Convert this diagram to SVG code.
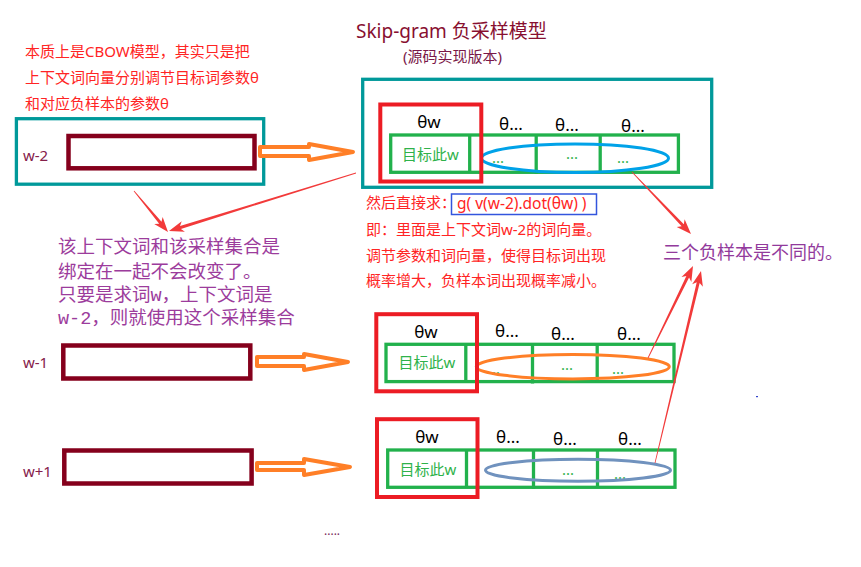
<svg xmlns="http://www.w3.org/2000/svg" width="861" height="567" viewBox="0 0 861 567">
<style>
  .sans { font-family: "Noto Sans", "Noto Sans CJK SC", sans-serif; }
  .red { fill: #ff2424; font-size: 15px; }
  .purple { font-family: "Liberation Mono", "Noto Sans CJK SC", monospace; fill: #9c3c9c; font-size: 18.5px; }
  .lbl { fill: #85204a; font-size: 15px; }
  .theta { fill: #000; font-size: 17px; text-anchor: middle; }
  .gtxt { fill: #2fb24a; font-size: 15px; text-anchor: middle; }
  .dots { fill: #2fb24a; font-size: 15px; }
  .teal { fill: none; stroke: #00999a; stroke-width: 3.3; }
  .word { fill: #fff; stroke: #85001c; stroke-width: 4.5; }
  .redbox { fill: none; stroke: #ec1c24; stroke-width: 4; }
  .green { fill: none; stroke: #22b14c; stroke-width: 3.3; }
  .orange { fill: #fff; stroke: #ff7f27; stroke-width: 4; stroke-linejoin: round; }
  .arrow { fill: #f23a3a; stroke: none; }
</style>

<g id="title" class="sans">
  <text x="356" y="38" font-size="19" fill="#880f30">Skip-gram 负采样模型</text>
  <text x="403" y="62" font-size="15" fill="#7a1848">(源码实现版本)</text>
</g>

<g id="note-top-left" class="sans red">
  <text x="25" y="57">本质上是CBOW模型，其实只是把</text>
  <text x="25" y="83">上下文词向量分别调节目标词参数θ</text>
  <text x="25" y="109">和对应负样本的参数θ</text>
</g>

<g id="ctx-w-2">
  <rect class="teal" x="16.4" y="118.7" width="247.3" height="65.5"/>
  <text class="sans lbl" x="23" y="161">w-2</text>
  <rect class="word" x="68.5" y="136" width="186" height="32.3"/>
</g>

<g id="ctx-w-1">
  <text class="sans lbl" x="23" y="368">w-1</text>
  <rect class="word" x="63.3" y="345.5" width="187" height="33"/>
</g>

<g id="ctx-w+1">
  <text class="sans lbl" x="23" y="477">w+1</text>
  <rect class="word" x="64.3" y="450.5" width="187.3" height="33"/>
</g>

<g id="set-top">
  <rect class="teal" x="362.7" y="79.3" width="349" height="108"/>
  <rect class="green" x="390.7" y="135" width="287.7" height="37.3"/>
  <line class="green" x1="469.7" y1="135" x2="469.7" y2="172.3"/>
  <line class="green" x1="536.2" y1="135" x2="536.2" y2="174"/>
  <line class="green" x1="600.2" y1="135" x2="600.2" y2="172.3"/>
  <text class="sans gtxt" x="430.5" y="160">目标此w</text>
  <text class="sans dots" x="492" y="163">...</text>
  <text class="sans dots" x="566" y="159">...</text>
  <text class="sans dots" x="617" y="163">...</text>
  <ellipse cx="575" cy="158.2" rx="93.5" ry="14.3" fill="none" stroke="#00a2e8" stroke-width="3"/>
  <rect class="redbox" x="380.3" y="104.5" width="101" height="77"/>
  <text class="sans theta" x="429" y="128">θw</text>
  <text class="sans theta" x="511" y="130">θ...</text>
  <text class="sans theta" x="567" y="131">θ...</text>
  <text class="sans theta" x="633" y="132">θ...</text>
</g>

<g id="set-middle">
  <rect class="green" x="386" y="344.3" width="288" height="37.3"/>
  <line class="green" x1="465.8" y1="344.3" x2="465.8" y2="381.6"/>
  <line class="green" x1="532.5" y1="344.3" x2="532.5" y2="383.5"/>
  <line class="green" x1="597.2" y1="344.3" x2="597.2" y2="381.6"/>
  <text class="sans gtxt" x="427" y="368">目标此w</text>
  <text class="sans dots" x="488" y="373.5">...</text>
  <text class="sans dots" x="561" y="370">...</text>
  <text class="sans dots" x="612" y="373.5">...</text>
  <ellipse cx="572.8" cy="366.7" rx="96.5" ry="12.2" fill="none" stroke="#ff7f27" stroke-width="3"/>
  <rect class="redbox" x="376.3" y="314.2" width="100.7" height="77.1"/>
  <text class="sans theta" x="426" y="338">θw</text>
  <text class="sans theta" x="507" y="337">θ...</text>
  <text class="sans theta" x="563" y="340">θ...</text>
  <text class="sans theta" x="629" y="340">θ...</text>
</g>

<g id="set-bottom">
  <rect class="green" x="387.7" y="450" width="287.3" height="37.3"/>
  <line class="green" x1="466.5" y1="450" x2="466.5" y2="487.3"/>
  <line class="green" x1="533.5" y1="450" x2="533.5" y2="489"/>
  <line class="green" x1="597.5" y1="450" x2="597.5" y2="487.3"/>
  <text class="sans gtxt" x="428" y="475">目标此w</text>
  <text class="sans dots" x="562" y="475">...</text>
  <text class="sans dots" x="614" y="479">...</text>
  <ellipse cx="578" cy="470.2" rx="92.5" ry="11" fill="none" stroke="#7092be" stroke-width="3"/>
  <rect class="redbox" x="377" y="419.2" width="100.5" height="77.8"/>
  <text class="sans theta" x="427" y="443">θw</text>
  <text class="sans theta" x="508" y="443">θ...</text>
  <text class="sans theta" x="565" y="445">θ...</text>
  <text class="sans theta" x="630" y="445">θ...</text>
</g>

<g id="note-right" class="sans red">
  <text x="366" y="208">然后直接求：</text>
  <rect x="451.5" y="194" width="145" height="20.5" fill="none" stroke="#3355dd" stroke-width="1.5"/>
  <text x="457" y="209" font-size="15.5">g( v(w-2).dot(θw) )</text>
  <text x="366" y="235">即：里面是上下文词w-2的词向量。</text>
  <text x="366" y="261">调节参数和词向量，使得目标词出现</text>
  <text x="366" y="286">概率增大，负样本词出现概率减小。</text>
</g>

<g id="note-purple" class="purple">
  <text x="58" y="253">该上下文词和该采样集合是</text>
  <text x="58" y="278">绑定在一起不会改变了。</text>
  <text x="58" y="301">只要是求词w，上下文词是</text>
  <text x="58" y="324">w-2，则就使用这个采样集合</text>
</g>

<g id="note-diff">
  <text x="663" y="259" font-family="Noto Sans CJK SC, sans-serif" font-size="18" fill="#923a9c">三个负样本是不同的。</text>
</g>

<g id="more">
  <text x="324" y="535" font-family="Noto Sans, sans-serif" font-size="12" fill="#7a2a5a">.....</text>
  <rect x="756" y="396" width="2" height="1.2" fill="#3344cc"/>
</g>

<g id="connectors">
  <polygon class="orange" points="260,147 309,147 309,144 353,152 309,160 309,156 260,156"/>
  <polygon class="orange" points="257,357 304,357 304,354 348,362 304,370 304,366 257,366"/>
  <polygon class="orange" points="257,463 304,463 304,459 350,467 304,475 304,470 257,470"/>
  <polygon class="arrow" points="133.69,191.26 159.19,223.72 154.20,223.96 168,232 162.66,216.94 161.49,221.80 134.31,190.74"/>
  <polygon class="arrow" points="355.88,172.62 180.02,226.02 181.70,221.31 169,231 184.96,231.81 180.90,228.88 356.12,173.38"/>
  <polygon class="arrow" points="631.71,172.28 681.64,226.34 676.68,226.92 691,234 684.64,219.34 683.82,224.28 632.29,171.72"/>
  <polygon class="arrow" points="648.36,358.18 689.08,277.44 691.35,281.89 693,266 681.47,277.05 686.38,276.12 647.64,357.82"/>
  <polygon class="arrow" points="655.39,463.09 699.66,283.02 702.85,286.87 701,271 692.15,284.31 696.74,282.32 654.61,462.91"/>
</g>
</svg>
